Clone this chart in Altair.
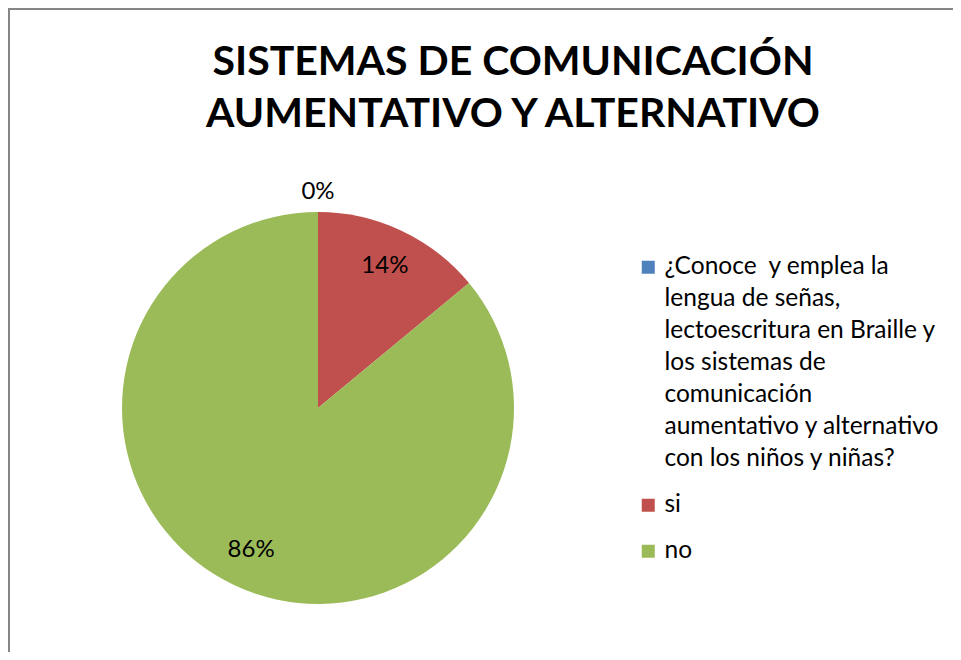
import altair as alt
import pandas as pd

categories = [
    "¿Conoce\u00a0 y emplea la|lengua de señas,|lectoescritura en Braille y|los sistemas de|comunicación|aumentativo y alternativo|con los niños y niñas?",
    "si",
    "no",
]
values = [0, 14, 86]
colors = ["#4F81BD", "#C0504D", "#9BBB59"]
title_lines = ["SISTEMAS DE COMUNICACIÓN", "AUMENTATIVO Y ALTERNATIVO"]

df = pd.DataFrame({"cat": categories, "value": values, "idx": list(range(len(values)))})

CX, CY, R = 310, 400, 196
FONT = "Lato"

base = alt.Chart(df).transform_joinaggregate(total="sum(value)").transform_calculate(
    pct="datum.value / datum.total"
)

arcs = base.mark_arc(outerRadius=R, stroke=None).encode(
    theta=alt.Theta("value:Q", stack=True),
    color=alt.Color(
        "cat:N",
        sort=categories,
        scale=alt.Scale(domain=categories, range=colors),
        legend=alt.Legend(
            orient="none",
            legendX=628,
            legendY=247,
            title=None,
            labelExpr="split(datum.label, '|')",
            labelFont=FONT,
            labelFontSize=24.5,
            labelLimit=600,
            labelColor="black",
            labelOffset=4,
            symbolType="square",
            symbolSize=169,
            symbolStrokeWidth=0,
            rowPadding=21,
        ),
    ),
    order=alt.Order("idx:Q"),
    x=alt.value(CX),
    y=alt.value(CY),
)

labels_in = base.transform_filter("datum.value > 0").mark_text(
    font=FONT, fontSize=24, color="black"
).encode(
    theta=alt.Theta("value:Q", stack=True),
    detail="cat:N",
    order=alt.Order("idx:Q"),
    radius=alt.value(157),
    text=alt.Text("pct:Q", format=".0%"),
    x=alt.value(CX),
    y=alt.value(CY),
)

labels_out = base.transform_filter("datum.value == 0").mark_text(
    font=FONT, fontSize=24, color="black"
).encode(
    theta=alt.Theta("value:Q", stack=True),
    detail="cat:N",
    order=alt.Order("idx:Q"),
    radius=alt.value(216),
    text=alt.Text("pct:Q", format=".0%"),
    x=alt.value(CX),
    y=alt.value(CY),
)

title = alt.Chart(alt.Data(values=[{}])).mark_text(
    text=title_lines,
    font=FONT,
    fontSize=41,
    fontWeight="bold",
    color="black",
    align="center",
    baseline="alphabetic",
    lineHeight=52,
).encode(x=alt.value(505), y=alt.value(67))

border_left = alt.Chart(alt.Data(values=[{}])).mark_rule(color="#868686", strokeWidth=2).encode(
    x=alt.value(1), y=alt.value(1), y2=alt.value(700)
)
border_top = alt.Chart(alt.Data(values=[{}])).mark_rule(color="#868686", strokeWidth=2).encode(
    x=alt.value(0), x2=alt.value(1000), y=alt.value(1)
)

chart = (
    alt.layer(border_left, border_top, arcs, labels_in, labels_out, title)
    .properties(width=945, height=644, autosize="none", padding=0)
    .configure_view(stroke=None)
    .configure(style={"guide-label": {"lineHeight": 32}})
)

chart.save("out.html", embed_options={"renderer": "svg", "actions": False})
